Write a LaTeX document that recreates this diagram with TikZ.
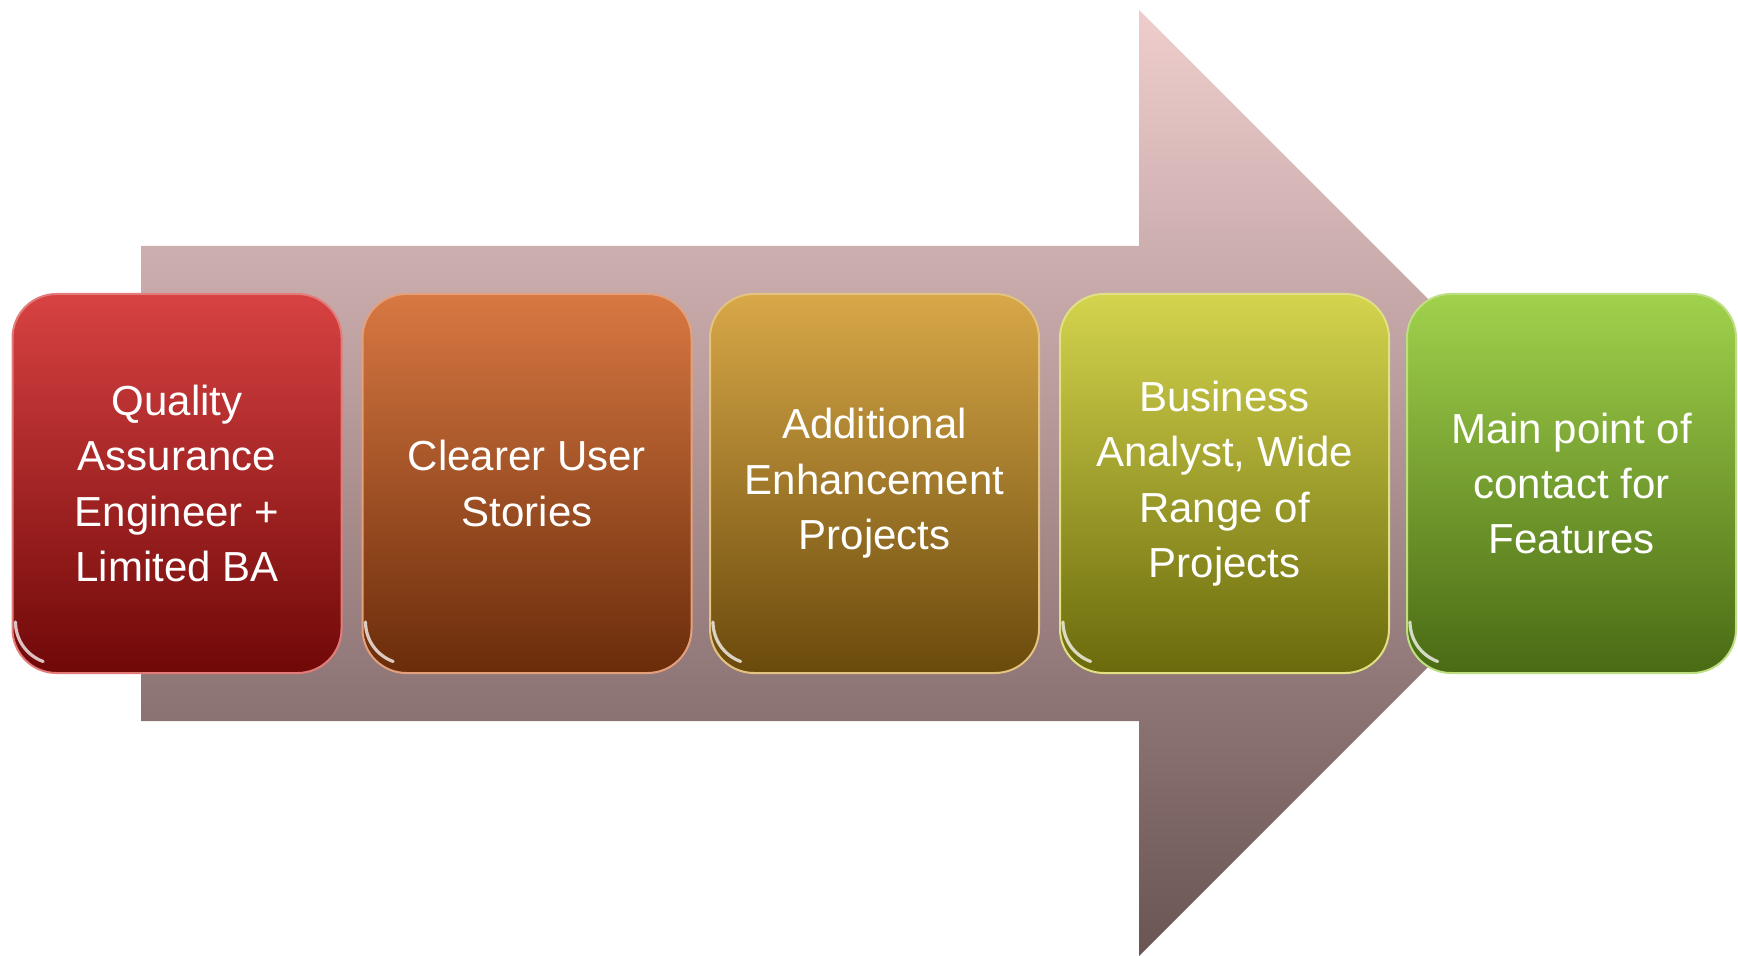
\documentclass[tikz,border=0pt]{standalone}
\usepackage{fontspec}
\setmainfont{Liberation Sans}
\definecolor{arrtop}{HTML}{EFCDCD}
\definecolor{arrbot}{HTML}{6A5454}
\definecolor{c1t}{HTML}{D84242}
\definecolor{c1b}{HTML}{700808}
\definecolor{c2t}{HTML}{D87842}
\definecolor{c2b}{HTML}{6A2C0A}
\definecolor{c3t}{HTML}{D8A848}
\definecolor{c3b}{HTML}{6A4A0C}
\definecolor{c4t}{HTML}{D4D44E}
\definecolor{c4b}{HTML}{6A6A0C}
\definecolor{c5t}{HTML}{A0D24C}
\definecolor{c5b}{HTML}{4A6A14}
\tikzset{
  stagebox/.style={rectangle, rounded corners=22pt, minimum width=164.5pt,
    minimum height=189.5pt, inner sep=0pt, text=white, align=center,
    font=\fontsize{21}{27.7}\selectfont, line width=1pt},
  gloss/.style={white, opacity=0.75, line width=1.6pt, line cap=round}
}
\begin{document}
\begin{tikzpicture}[x=0.5pt, y=-0.5pt]
\useasboundingbox (0,0) rectangle (1738,956);
% big arrow
\shade[top color=arrtop, bottom color=arrbot]
  (141,246) -- (1139,246) -- (1139,10) -- (1612,483) -- (1139,956)
  -- (1139,721) -- (141,721) -- cycle;
% boxes
\node[stagebox, top color=c1t, bottom color=c1b, draw=c1t!70!white] (b1) at (177,483.5)
  {Quality\\Assurance\\Engineer +\\Limited BA};
\node[stagebox, top color=c2t, bottom color=c2b, draw=c2t!70!white] (b2) at (527,483.5)
  {Clearer User\\Stories};
\node[stagebox, top color=c3t, bottom color=c3b, draw=c3t!70!white] (b3) at (874.5,483.5)
  {Additional\\Enhancement\\Projects};
\node[stagebox, top color=c4t, bottom color=c4b, draw=c4t!70!white] (b4) at (1224.5,483.5)
  {Business\\Analyst, Wide\\Range of\\Projects};
\node[stagebox, top color=c5t, bottom color=c5b, draw=c5t!70!white] (b5) at (1571.5,483.5)
  {Main point of\\contact for\\Features};
% glossy highlights at lower-left corners
\foreach \b in {b1,b2,b3,b4,b5}{
  \draw[gloss] ([xshift=2pt,yshift=26pt]\b.south west) arc[start angle=180, end angle=250, radius=21pt];
}
\end{tikzpicture}
\end{document}
